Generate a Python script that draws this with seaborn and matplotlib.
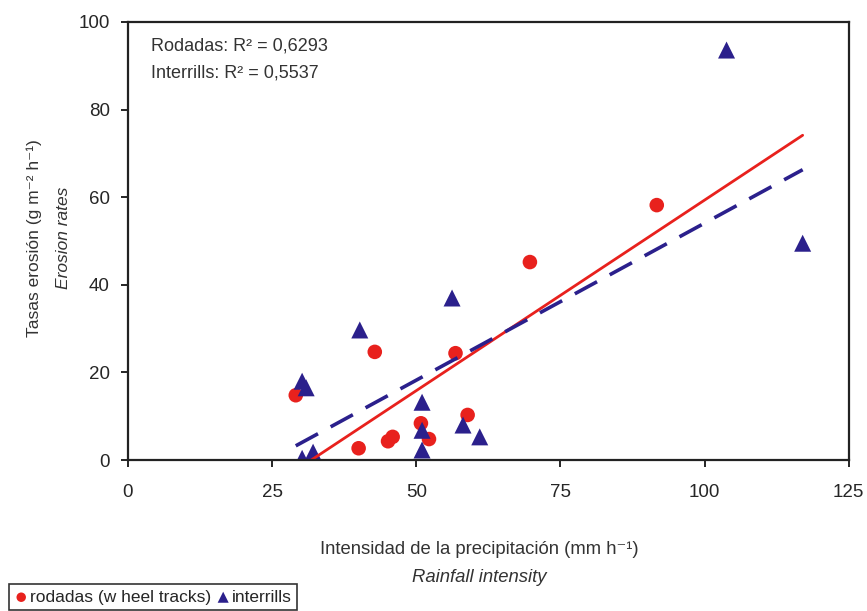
import numpy as np
import pandas as pd
import seaborn as sns
import matplotlib
matplotlib.use("Agg")
import matplotlib.pyplot as plt

# rodadas (wheel tracks)
rod_x = [29.1, 42.8, 40.0, 45.1, 45.9, 56.8, 50.8, 52.2, 58.9, 69.7, 91.7]
rod_y = [14.8, 24.7, 2.7, 4.3, 5.3, 24.4, 8.4, 4.8, 10.3, 45.2, 58.2]

# interrills
int_x = [30.2, 30.9, 40.2, 56.2, 51.0, 51.0, 51.0, 58.1, 61.0, 30.2, 32.1, 103.8, 117.0]
int_y = [18.0, 16.5, 29.7, 37.0, 13.2, 6.8, 2.3, 8.0, 5.3, 0.4, 1.8, 93.6, 49.5]

r2_labels = ["Rodadas: R² = 0,6293", "Interrills: R² = 0,5537"]
x_ticks = [0, 25, 50, 75, 100, 125]
y_ticks = [0, 20, 40, 60, 80, 100]

red = "#e8211d"
blue = "#2b208c"

sns.set_style("white")
plt.rcParams["font.family"] = ["Liberation Sans", "DejaVu Sans"]

fig = plt.figure(figsize=(8.67, 6.11), dpi=100)
ax = fig.add_axes([0.1476, 0.247, 0.8314, 0.717])

rod = pd.DataFrame({"x": rod_x, "y": rod_y})
inter = pd.DataFrame({"x": int_x, "y": int_y})

# linear trendlines drawn across the whole intensity range of both series
xs = np.array([min(rod_x + int_x), max(rod_x + int_x)])
rod_fit = np.polyfit(rod_x, rod_y, 1)
int_fit = np.polyfit(int_x, int_y, 1)
sns.lineplot(x=xs, y=np.polyval(rod_fit, xs), ax=ax, color=red, lw=2)
sns.lineplot(x=xs, y=np.polyval(int_fit, xs), ax=ax, color=blue, lw=2.6,
             dashes=False, linestyle=(0, (7, 4)))

sns.scatterplot(data=rod, x="x", y="y", ax=ax, color=red, marker="o", s=110,
                edgecolor="none", label="rodadas (w heel tracks)")
sns.scatterplot(data=inter, x="x", y="y", ax=ax, color=blue, marker="^", s=150,
                edgecolor="none", label="interrills")

ax.set_xlim(0, 125)
ax.set_ylim(0, 100)
ax.set_xticks(x_ticks)
ax.set_yticks(y_ticks)
ax.tick_params(axis="both", direction="out", length=5, width=1.2, color="black",
               labelsize=13.5, bottom=True, left=True)
ax.tick_params(axis="x", pad=12)
ax.tick_params(axis="y", pad=8)
for sp in ax.spines.values():
    sp.set_color("#222222")
    sp.set_linewidth(1.6)

ax.set_xlabel("")
ax.set_ylabel("")
ax.text(0.032, 0.935, r2_labels[0], transform=ax.transAxes, fontsize=13, color="#333333")
ax.text(0.032, 0.873, r2_labels[1], transform=ax.transAxes, fontsize=13, color="#333333")

fig.text(0.553, 0.1, "Intensidad de la precipitación (mm h⁻¹)", ha="center",
         va="center", fontsize=13.3, color="#333333")
fig.text(0.553, 0.055, "Rainfall intensity", ha="center", va="center",
         fontsize=13.3, style="italic", color="#333333")
fig.text(0.039, 0.61, "Tasas erosión (g m⁻² h⁻¹)", ha="center", va="center",
         rotation=90, fontsize=12.5, color="#333333")
fig.text(0.073, 0.61, "Erosion rates", ha="center", va="center",
         rotation=90, fontsize=12.5, style="italic", color="#333333")

leg = ax.legend(loc="lower left", bbox_to_anchor=(-0.177, -0.362), ncol=2,
                frameon=True, fontsize=12.5, handletextpad=0.1, columnspacing=0.3,
                borderpad=0.3, handlelength=0.8, markerscale=0.65, fancybox=False)
leg.get_frame().set_edgecolor("black")
leg.get_frame().set_linewidth(1.2)

fig.savefig("out.png", dpi=100)
